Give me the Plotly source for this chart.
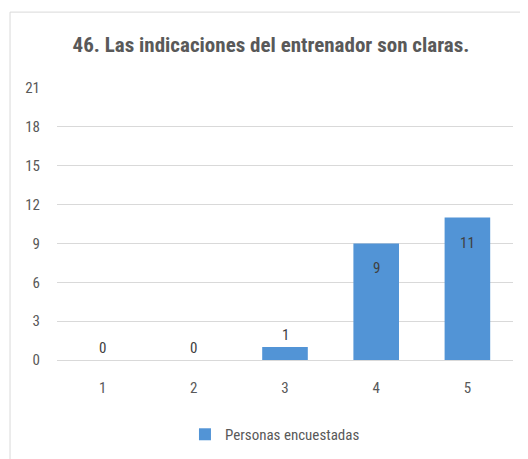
import plotly.graph_objects as go

# datos de la encuesta
categorias = ["1", "2", "3", "4", "5"]
personas = [0, 0, 1, 9, 11]
y_ticks = [0, 3, 6, 9, 12, 15, 18, 21]

titulo = "46. Las indicaciones del entrenador son claras."
serie = "Personas encuestadas"

FONT = "Liberation Sans Narrow, Arial Narrow, Roboto Condensed, Liberation Sans, sans-serif"
GRIS = "#595959"

fig = go.Figure()
fig.add_trace(go.Bar(
    x=categorias,
    y=personas,
    name=serie,
    marker=dict(color="#5294d6", line=dict(width=0)),
    showlegend=True,
))

# etiquetas de datos: dentro del extremo para barras altas, fuera para las bajas
# (en un eje de categorías la anotación usa el índice de la categoría)
for i, v in enumerate(personas):
    fig.add_annotation(
        x=i, y=v, text=str(v), showarrow=False,
        yshift=-25 if v >= 3 else 12,
        font=dict(family=FONT, size=15, color="#404040"),
    )

# marco del gráfico
fig.add_shape(type="rect", xref="paper", yref="paper",
              x0=-0.103, x1=1.2, y0=-0.37, y1=1.279,
              line=dict(color="#d9d9d9", width=1), fillcolor="rgba(0,0,0,0)", layer="below")

fig.update_layout(
    width=528, height=459,
    margin=dict(l=49, r=23, t=80, b=107),
    paper_bgcolor="white", plot_bgcolor="white",
    title=dict(text="<b>" + titulo + "</b>", x=0.498, xanchor="center", y=0.921, yanchor="middle",
               font=dict(family=FONT, size=21, color=GRIS)),
    font=dict(family=FONT, size=15, color=GRIS),
    bargap=0.5,
    legend=dict(orientation="h", x=0.478, xanchor="center", y=-0.274, yanchor="middle",
                font=dict(family=FONT, size=15, color=GRIS), itemwidth=30),
    xaxis=dict(type="category", range=[-0.5, 4.5], showgrid=False, showline=False, zeroline=False,
               ticks="", ticklabelstandoff=17, tickfont=dict(size=15, color=GRIS)),
    yaxis=dict(range=[0, 21], tickvals=y_ticks, showgrid=True, gridcolor="#d9d9d9", gridwidth=1,
               zeroline=True, zerolinecolor="#d9d9d9", zerolinewidth=1, showline=False, ticks="",
               ticklabelstandoff=16, tickfont=dict(size=15, color=GRIS)),
)

fig.write_html("out.html")
